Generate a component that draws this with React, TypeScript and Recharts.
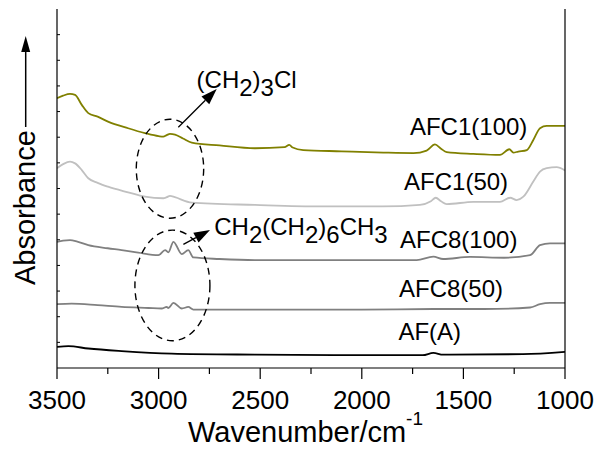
import { Line, LineChart, ReferenceDot, ReferenceLine, XAxis, YAxis } from 'recharts'

// wavenumber (cm-1) and stacked absorbance (arbitrary units) per sample
const afc1_100_wn = [3500, 3470, 3436, 3411, 3378, 3346, 3300, 3249, 3150, 3067, 3000, 2977, 2960, 2944, 2919, 2880, 2837, 2700, 2526, 2380, 2357, 2340, 2288, 2100, 1894, 1746, 1681, 1640, 1610, 1582, 1451, 1320, 1274, 1254, 1230, 1188, 1156, 1123, 1090, 1000]
const afc1_100_abs = [10.52, 10.62, 10.69, 10.65, 10.26, 9.94, 9.8, 9.61, 9.35, 9.16, 9.04, 9.02, 9.08, 9.13, 9.1, 8.95, 8.79, 8.68, 8.57, 8.61, 8.7, 8.6, 8.5, 8.45, 8.4, 8.38, 8.48, 8.72, 8.55, 8.42, 8.35, 8.31, 8.53, 8.4, 8.44, 8.5, 8.89, 9.35, 9.44, 9.44]

const afc1_50_wn = [3500, 3470, 3436, 3411, 3378, 3346, 3300, 3249, 3150, 3067, 2977, 2960, 2944, 2920, 2837, 2526, 2200, 1900, 1714, 1660, 1636, 1610, 1582, 1451, 1320, 1270, 1238, 1205, 1156, 1123, 1090, 1041, 1000]
const afc1_50_abs = [7.79, 7.95, 8.05, 7.98, 7.72, 7.4, 7.22, 7.07, 6.85, 6.68, 6.62, 6.66, 6.71, 6.66, 6.45, 6.36, 6.3, 6.3, 6.36, 6.5, 6.64, 6.5, 6.39, 6.48, 6.48, 6.64, 6.55, 6.68, 7.27, 7.66, 7.79, 7.83, 7.7]

const afc8_100_wn = [3500, 3470, 3436, 3400, 3346, 3250, 3182, 3100, 3001, 2968, 2952, 2927, 2886, 2854, 2829, 2700, 2526, 2100, 1730, 1648, 1600, 1467, 1300, 1172, 1123, 1074, 1000]
const afc8_100_abs = [4.92, 4.97, 4.99, 4.93, 4.79, 4.67, 4.6, 4.5, 4.4, 4.6, 4.51, 4.92, 4.44, 4.6, 4.31, 4.25, 4.21, 4.21, 4.21, 4.34, 4.25, 4.33, 4.3, 4.4, 4.79, 4.86, 4.86]

const afc8_50_wn = [3500, 3428, 3300, 3182, 3050, 2985, 2960, 2952, 2927, 2886, 2854, 2829, 2526, 2000, 1648, 1400, 1172, 1123, 1074, 1000]
const afc8_50_abs = [2.49, 2.51, 2.45, 2.38, 2.34, 2.32, 2.38, 2.34, 2.54, 2.32, 2.38, 2.28, 2.28, 2.28, 2.3, 2.3, 2.36, 2.49, 2.54, 2.54]

const afa_wn = [3500, 3444, 3346, 3182, 2936, 2526, 2000, 1700, 1648, 1600, 1566, 1207, 1000]
const afa_abs = [0.82, 0.85, 0.76, 0.66, 0.56, 0.52, 0.5, 0.5, 0.59, 0.52, 0.52, 0.54, 0.63]

const xTicks = [3500, 3250, 3000, 2750, 2500, 2250, 2000, 1750, 1500, 1250, 1000]
const yTicks = [1, 2, 3, 4, 5, 6, 7, 8, 9, 10, 11, 12, 13]

const toPoints = (wn: number[], abs: number[]) => wn.map((w, i) => ({ w, a: abs[i] }))

const series = [
  { name: 'AFC1(100)', data: toPoints(afc1_100_wn, afc1_100_abs), color: '#808000', label: { w: 1763, a: 9.09 } },
  { name: 'AFC1(50)', data: toPoints(afc1_50_wn, afc1_50_abs), color: '#c0c0c0', label: { w: 1792, a: 6.94 } },
  { name: 'AFC8(100)', data: toPoints(afc8_100_wn, afc8_100_abs), color: '#808080', label: { w: 1812, a: 4.69 } },
  { name: 'AFC8(50)', data: toPoints(afc8_50_wn, afc8_50_abs), color: '#808080', label: { w: 1817, a: 2.77 } },
  { name: 'AF(A)', data: toPoints(afa_wn, afa_abs), color: '#000000', label: { w: 1820, a: 1.08 } }
]

const FONT = 'Arial, "Liberation Sans", sans-serif'

function XTick(props: any) {
  const { x, y, payload } = props
  const major = payload.value % 500 === 0
  return (
    <g>
      <line x1={x} y1={y} x2={x} y2={y + (major ? 11 : 6)} stroke="#000" strokeWidth={1.2} />
      {major && (
        <text x={x} y={y + 41} textAnchor="middle" fontSize={26} fontFamily={FONT} fill="#000">
          {payload.value}
        </text>
      )}
    </g>
  )
}

function LeftTick(props: any) {
  const { x, y } = props
  return <line x1={x} y1={y} x2={x + 3} y2={y} stroke="#000" strokeWidth={1} />
}

function RightTick(props: any) {
  const { x, y } = props
  return <line x1={x} y1={y} x2={x - 3} y2={y} stroke="#000" strokeWidth={1} />
}

function YLabel(props: any) {
  const { viewBox } = props
  const cx = viewBox.x + 25.7
  return (
    <g>
      <text
        x={35}
        y={285}
        transform="rotate(-90 35 285)"
        fontSize={29}
        fontFamily={FONT}
        fill="#000"
      >
        Absorbance
      </text>
      <line x1={cx} y1={127} x2={cx} y2={48} stroke="#000" strokeWidth={1.5} />
      <polygon points={`${cx},36 ${cx - 4.5},52 ${cx + 4.5},52`} fill="#000" />
    </g>
  )
}

function XLabel() {
  return (
    <text x={188} y={442} fontSize={29} fontFamily={FONT} fill="#000">
      Wavenumber/cm
      <tspan dy={-17} fontSize={19}>-1</tspan>
    </text>
  )
}

function Arrow(props: any) {
  const { x1, y1, x2, y2 } = props
  const dx = x2 - x1
  const dy = y2 - y1
  const len = Math.sqrt(dx * dx + dy * dy)
  const ux = dx / len
  const uy = dy / len
  const hl = 16
  const hw = 5.5
  const bx = x2 - ux * hl
  const by = y2 - uy * hl
  return (
    <g>
      <line x1={x1} y1={y1} x2={bx} y2={by} stroke="#000" strokeWidth={1.3} />
      <polygon
        points={`${x2},${y2} ${bx - uy * hw},${by + ux * hw} ${bx + uy * hw},${by - ux * hw}`}
        fill="#000"
      />
    </g>
  )
}

const ellipseShape = (rx: number, ry: number) => (p: any) => (
  <ellipse cx={p.cx} cy={p.cy} rx={rx} ry={ry} fill="none" stroke="#000" strokeWidth={1.4} strokeDasharray="7 5" />
)

const textShape = (content: any) => (p: any) => (
  <text x={p.cx} y={p.cy} fontSize={24} fontFamily={FONT} fill="#000">
    {content}
  </text>
)

export default function App() {
  return (
    <div style={{ position: 'absolute', left: 0, top: 0 }}>
      <LineChart width={599} height={456} margin={{ top: 9, right: 0, bottom: 0, left: 0 }}>
        <XAxis
          xAxisId="top"
          orientation="top"
          type="number"
          domain={[1000, 3500]}
          reversed
          height={0}
          tick={false}
          tickLine={false}
          axisLine={{ stroke: '#000', strokeWidth: 1.2 }}
        />
        <XAxis
          dataKey="w"
          type="number"
          domain={[1000, 3500]}
          reversed
          allowDataOverflow
          ticks={xTicks}
          interval={0}
          height={88}
          tickSize={0}
          tickMargin={0}
          tickLine={false}
          tick={<XTick />}
          axisLine={{ stroke: '#000', strokeWidth: 1.2 }}
          label={<XLabel />}
        />
        <YAxis
          type="number"
          domain={[0, 14]}
          ticks={yTicks}
          interval={0}
          width={57}
          tickSize={0}
          tickMargin={0}
          tickLine={false}
          tick={<LeftTick />}
          axisLine={{ stroke: '#000', strokeWidth: 1.2 }}
          label={<YLabel />}
        />
        <YAxis
          yAxisId="r"
          orientation="right"
          type="number"
          domain={[0, 14]}
          ticks={yTicks}
          interval={0}
          width={34}
          tickSize={0}
          tickMargin={0}
          tickLine={false}
          tick={<RightTick />}
          axisLine={{ stroke: '#000', strokeWidth: 1.2 }}
        />
        {series.map((s) => (
          <Line
            key={s.name}
            data={s.data}
            dataKey="a"
            type="monotone"
            stroke={s.color}
            strokeWidth={1.8}
            dot={false}
            activeDot={false}
            isAnimationActive={false}
          />
        ))}
        {series.map((s) => (
          <ReferenceDot key={s.name + '-l'} x={s.label.w} y={s.label.a} shape={textShape(s.name)} />
        ))}
        <ReferenceDot x={2944} y={7.77} shape={ellipseShape(33.7, 49.5)} />
        <ReferenceDot x={2932} y={3.22} shape={ellipseShape(37.5, 55.3)} />
        <ReferenceLine segment={[{ x: 2903, y: 9.39 }, { x: 2714, y: 10.88 }]} shape={<Arrow />} />
        <ReferenceLine segment={[{ x: 2878, y: 4.82 }, { x: 2747, y: 5.38 }]} shape={<Arrow />} />
        <ReferenceDot
          x={2813}
          y={10.91}
          shape={textShape(
            <>
              (CH<tspan dy={8}>2</tspan>
              <tspan dy={-8}>)</tspan>
              <tspan dy={8}>3</tspan>
              <tspan dy={-8}>Cl</tspan>
            </>
          )}
        />
        <ReferenceDot
          x={2726}
          y={5.2}
          shape={textShape(
            <>
              CH<tspan dy={8}>2</tspan>
              <tspan dy={-8}>(CH</tspan>
              <tspan dy={8}>2</tspan>
              <tspan dy={-8}>)</tspan>
              <tspan dy={8}>6</tspan>
              <tspan dy={-8}>CH</tspan>
              <tspan dy={8}>3</tspan>
            </>
          )}
        />
      </LineChart>
    </div>
  )
}
